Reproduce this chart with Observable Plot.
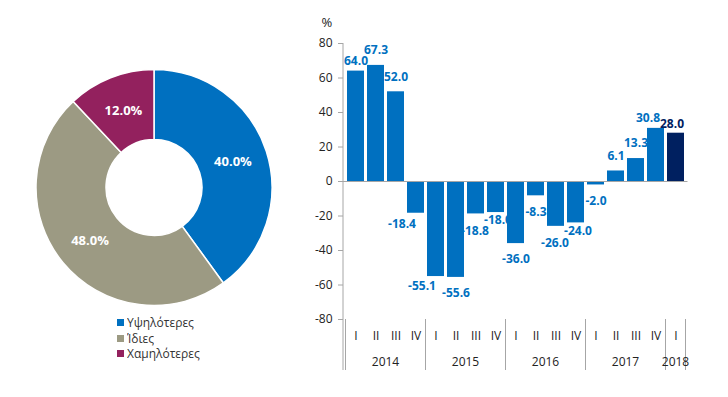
<!DOCTYPE html>
<html><head><meta charset="utf-8">
<script src="https://cdn.jsdelivr.net/npm/d3@7"></script>
<script src="https://cdn.jsdelivr.net/npm/@observablehq/plot@0.6"></script>
<style>
body{margin:0;background:#fff;font-family:"Open Sans",sans-serif;}
#wrap{position:relative;width:728px;height:397px;overflow:hidden;background:#fff;}
#pie{position:absolute;left:0;top:0;width:308px;height:375px;}
#bar{position:absolute;left:290px;top:0;width:438px;height:397px;}
#legend{position:absolute;left:117px;top:315px;width:160px;}
#legend .lg-swatches{font-family:"Open Sans",sans-serif !important;font-size:12px !important;color:#333;margin:0 !important;}
#legend .lg-swatch{padding-bottom:0 !important;line-height:15.5px;}
#legend .lg-swatch svg{margin-right:3px !important;}
#bar svg, #bar svg text, #pie svg text{font-family:"Open Sans",sans-serif !important;}
#bar svg g[aria-label^="y-axis"] line, #bar svg g[aria-label^="y-axis"] path{stroke:#A6A6A6;}
</style></head>
<body><div id="wrap"><div id="pie"></div><div id="legend"></div><div id="bar"></div></div>
<script>
// ---- Donut data ----
const pieCategories = ["Υψηλότερες", "Ίδιες", "Χαμηλότερες"];
const pieValues = [40.0, 48.0, 12.0];
const pieColors = ["#0070C0", "#9C9A83", "#93215E"];

// ---- Bar data ----
const years = ["2014", "2015", "2016", "2017", "2018"];
const quartersPerYear = [4, 4, 4, 4, 1];
const quarterNames = ["I", "II", "III", "IV"];
const changes = [64.0, 67.3, 52.0, -18.4, -55.1, -55.6, -18.8, -18.0, -36.0, -8.3, -26.0, -24.0, -2.0, 6.1, 13.3, 30.8, 28.0];
const yearColors = ["#0070C0", "#0070C0", "#0070C0", "#0070C0", "#002060"];
const yTicks = [-80, -60, -40, -20, 0, 20, 40, 60, 80];

const periods = years.flatMap((yr, i) => quarterNames.slice(0, quartersPerYear[i]).map(q => ({year: yr, quarter: q, key: yr + "-" + q})));
const rows = periods.map((p, i) => ({...p, value: changes[i]}));
const keys = rows.map(r => r.key);
const quarterOf = Object.fromEntries(rows.map(r => [r.key, r.quarter]));

// ---- Donut ----
const pieColor = (() => {
  try { const s = Plot.scale({color: {type: "ordinal", domain: pieCategories, range: pieColors}}); return v => s.apply(v); }
  catch (e) { return d3.scaleOrdinal(pieCategories, pieColors); }
})();
const pieRows = pieCategories.map((c, i) => ({category: c, value: pieValues[i]}));

function donut(index, scales, values, dims) {
  const cx = dims.width / 2, cy = dims.height / 2;
  const arcs = d3.pie().sort(null).value(d => d.value)(pieRows);
  const arc = d3.arc().innerRadius(48).outerRadius(118);
  const g = d3.create("svg:g").attr("transform", `translate(${cx},${cy})`);
  g.selectAll("path").data(arcs).join("path")
    .attr("d", arc).attr("fill", d => pieColor(d.data.category))
    .attr("stroke", "#fff").attr("stroke-width", 1.5);
  g.selectAll("text").data(arcs).join("text")
    .attr("transform", d => `translate(${arc.centroid(d)})`)
    .attr("text-anchor", "middle").attr("dy", "0.35em")
    .attr("fill", "#fff").attr("font-weight", "bold").attr("font-size", 13)
    .text(d => d.data.value.toFixed(1) + "%");
  return g.node();
}

const piePlot = Plot.plot({
  width: 308, height: 375, margin: 0,
  style: {fontFamily: "'Open Sans', sans-serif", background: "transparent"},
  marks: [donut]
});
document.getElementById("pie").appendChild(piePlot);

const legend = Plot.legend({
  color: {type: "ordinal", domain: pieCategories, range: pieColors},
  legend: "swatches", columns: 1, swatchSize: 7, className: "lg"
});
document.getElementById("legend").appendChild(legend);

// ---- Bars ----
function yearAxis(index, scales, values, dims) {
  const x = scales.x, y = scales.y;
  const bw = typeof x.bandwidth === "function" ? x.bandwidth() : x.bandwidth;
  const step = x(keys[1]) - x(keys[0]);
  const gap = (step - bw) / 2;
  const yb = y(-80);
  const g = d3.create("svg:g").attr("stroke", "#A6A6A6").attr("fill", "none");
  g.append("line").attr("x1", dims.marginLeft).attr("x2", dims.marginLeft)
    .attr("y1", y(80)).attr("y2", yb + 51);
  years.forEach(yr => {
    const ks = rows.filter(r => r.year === yr).map(r => r.key);
    const left = x(ks[0]) - gap, right = x(ks[ks.length - 1]) + bw + gap;
    [left, right].forEach(px => g.append("line").attr("x1", px).attr("x2", px).attr("y1", yb).attr("y2", yb + 51));
    g.append("text").attr("x", (left + right) / 2).attr("y", yb + 43).attr("dy", "0.35em")
      .attr("text-anchor", "middle").attr("stroke", "none").attr("fill", "#222").attr("font-size", 12)
      .text(yr);
  });
  return g.node();
}

// value labels: outside end, with the few manual nudges seen in the original
const labelNudge = {"2014-I": [0, 5], "2014-IV": [-14, -5], "2015-I": [-14, -6], "2015-III": [-1, 1], "2015-IV": [2, -8],
                    "2016-III": [-1, 1], "2016-IV": [2, -8], "2017-IV": [-8, 5], "2018-I": [-4, 6]};
const valueLabels = rows.map(r => {
  const [ndx, ndy] = labelNudge[r.key] || [0, 0];
  return Plot.text([r], {x: "key", y: "value", text: d => d.value.toFixed(1), fill: "year",
    dx: ndx, dy: (r.value >= 0 ? -15 : 16) + ndy, fontWeight: "bold", fontSize: 12});
});

const barPlot = Plot.plot({
  width: 438, height: 397,
  marginLeft: 53, marginRight: 40.5, marginTop: 43, marginBottom: 78,
  style: {fontFamily: "'Open Sans', sans-serif", fontSize: "12px", color: "#222", background: "transparent", overflow: "visible"},
  x: {domain: keys, paddingInner: 0.13, paddingOuter: 0.065, tickSize: 0, tickPadding: 12, tickFormat: k => quarterOf[k], label: null},
  y: {domain: [-80, 80], ticks: yTicks, tickSize: 5, tickPadding: 6, tickFormat: d => d, label: null},
  color: {domain: years, range: yearColors},
  marks: [
    Plot.barY(rows, {x: "key", y: "value", fill: "year"}),
    Plot.ruleY([0], {stroke: "#A6A6A6"}),
    ...valueLabels,
    Plot.text(["%"], {frameAnchor: "top-left", text: d => d, dx: -22, dy: -26, fontSize: 13, fill: "#222"}),
    yearAxis
  ]
});
document.getElementById("bar").appendChild(barPlot);
</script>
</body></html>
